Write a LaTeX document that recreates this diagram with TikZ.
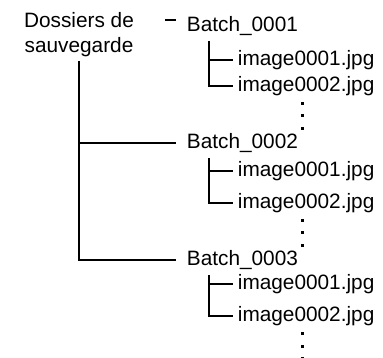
\documentclass[tikz,border=0pt]{standalone}
\usepackage{fontspec}
\setmainfont{Liberation Sans}
\begin{document}
\begin{tikzpicture}[x=1pt, y=-1pt, line width=1.8pt,
  every node/.style={font=\fontsize{20.8}{24.5}\selectfont, inner ysep=0pt},
  batch/.style={anchor=west, inner xsep=10pt},
  file/.style={anchor=west, inner xsep=4pt}]
  \useasboundingbox (0,0) rectangle (383,358);
  \node[anchor=north, align=center, inner sep=0pt] (root) at (79,12) {Dossiers de\\sauvegarde};
  % one block per batch folder
  \foreach \n/\y/\ya/\yb in {1/26/60/86, 2/143/171/203, 3/260/284/316} {
    \node[batch] (b\n) at (176,\y) {Batch\_000\n};
    \node[file] (i\n1) at (233,\ya) {image0001.jpg};
    \node[file] (i\n2) at (233,\yb) {image0002.jpg};
    \coordinate (t\n) at (209,\y+15);
    \draw (t\n) |- (i\n2.west);
    \draw (t\n |- i\n1.west) -- (i\n1.west);
    \foreach \k in {0,1,2}
      \fill (300.5,\yb+16+\k*12.5) rectangle ++(3,3);
  }
  \coordinate (top) at (79,61);
  \draw (top) |- (b3.west);
  \draw (top |- b2.west) -- (b2.west);
  \coordinate (dash) at (165,20);
  \draw (dash) -- ++(11,0);
\end{tikzpicture}
\end{document}
